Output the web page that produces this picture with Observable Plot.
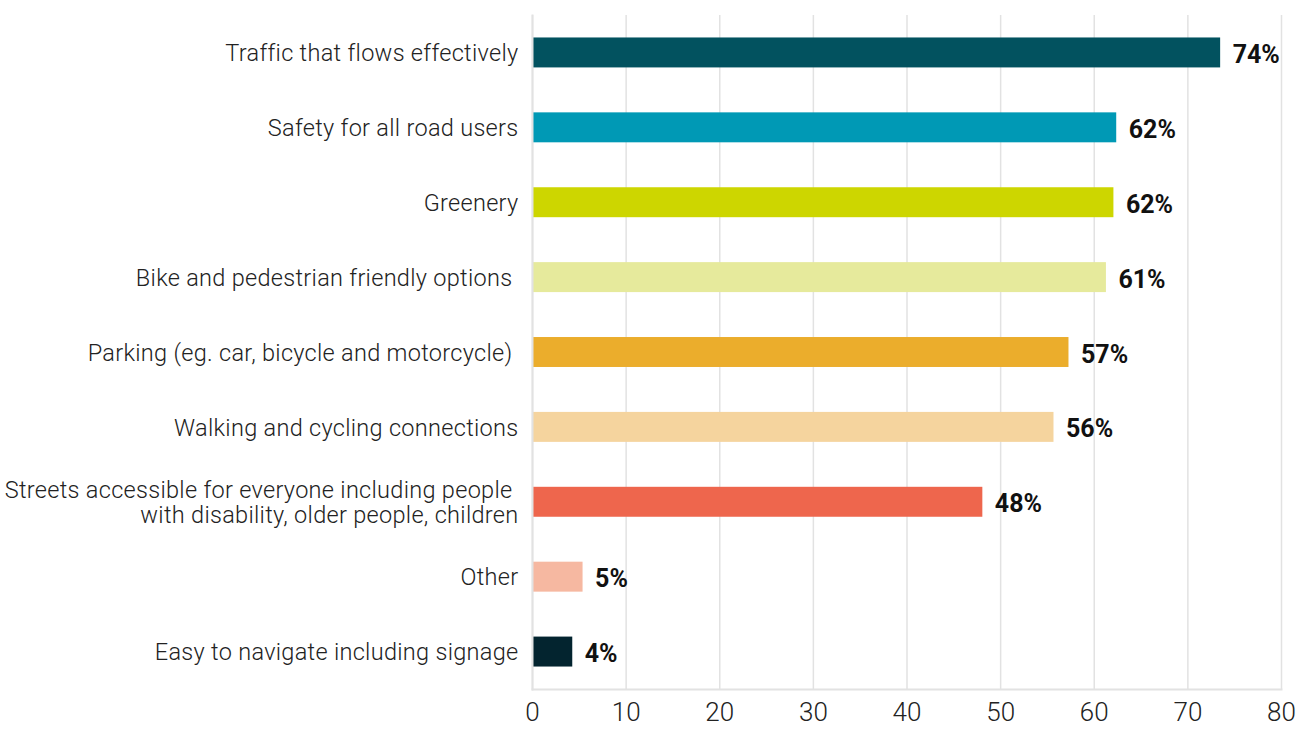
<!DOCTYPE html>
<html>
<head>
<meta charset="utf-8">
<script src="https://cdn.jsdelivr.net/npm/d3@7"></script>
<script src="https://cdn.jsdelivr.net/npm/@observablehq/plot@0.6"></script>
<style>
  html, body { margin: 0; padding: 0; background: #fff; }
  #chart svg { display: block; }
</style>
</head>
<body>
<div id="chart"></div>
<script>
const categories = [
  "Traffic that flows effectively",
  "Safety for all road users",
  "Greenery",
  "Bike and pedestrian friendly options\u00a0",
  "Parking (eg. car, bicycle and motorcycle)\u00a0",
  "Walking and cycling connections",
  "Streets accessible for everyone including people\u00a0\nwith disability, older people, children",
  "Other",
  "Easy to navigate including signage"
];
const values = [73.5, 62.4, 62.1, 61.3, 57.3, 55.7, 48.1, 5.4, 4.3];
const labels = ["74%", "62%", "62%", "61%", "57%", "56%", "48%", "5%", "4%"];
const colors = ["#02525f", "#0099b5", "#cdd600", "#e6ea9c", "#ebad2c", "#f5d49e", "#ee664d", "#f6b8a1", "#03242f"];
const xTicks = [0, 10, 20, 30, 40, 50, 60, 70, 80];

const data = categories.map((c, i) => ({category: c, value: values[i], label: labels[i], color: colors[i]}));

const chart = Plot.plot({
  width: 1311,
  height: 729,
  marginLeft: 532,
  marginRight: 30,
  marginTop: 15,
  marginBottom: 40,
  style: {fontFamily: "Roboto, sans-serif", background: "#fff"},
  x: {domain: [0, 80], ticks: xTicks},
  y: {domain: categories, paddingInner: 0.6, paddingOuter: 0.3, align: 0.5, round: false},
  color: {type: "identity"},
  marks: [
    Plot.ruleX(xTicks, {stroke: "#e2e2e2", strokeWidth: 1.5}),
    Plot.barX(data, {x: "value", y: "category", fill: "color"}),
    Plot.text(data, {
      x: "value", y: "category", text: "label",
      textAnchor: "start", dx: 12, dy: 2,
      fontSize: 25, fontWeight: 700, fill: "#111",
      style: "letter-spacing:0.6px"
    }),
    Plot.axisX({
      ticks: xTicks, tickSize: 0, tickPadding: 13,
      fontSize: 26, fontWeight: 300, color: "#222", label: null
    }),
    Plot.axisY({
      tickSize: 0, tickPadding: 14, fontSize: 23.5, fontWeight: 300,
      color: "#222", label: null, lineHeight: 1.08
    }),
    Plot.frame({anchor: "bottom", stroke: "#e2e2e2", strokeWidth: 2}),
    Plot.frame({anchor: "left", stroke: "#e2e2e2", strokeWidth: 2})
  ]
});
chart.querySelectorAll("g[aria-label='y-axis tick label'] text").forEach(t => t.style.letterSpacing = "0.3px");
document.getElementById("chart").appendChild(chart);
</script>
</body>
</html>
